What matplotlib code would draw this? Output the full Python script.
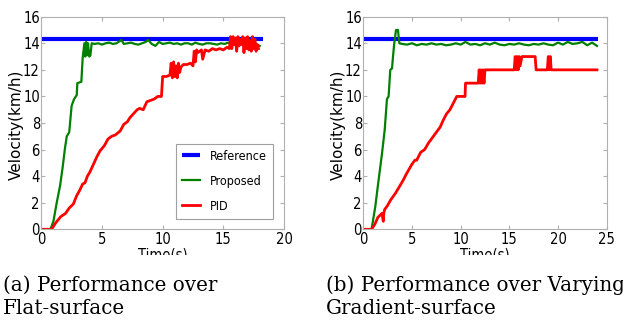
import numpy as np
import matplotlib
matplotlib.use("Agg")
import matplotlib.pyplot as plt
from matplotlib import font_manager as fm
from matplotlib.transforms import Bbox

# ---- data (a) flat surface ----
ref_a_t = [0, 18.25]
ref_a_v = [14.35, 14.35]

prop_a_t = [0, 0.75, 1.0, 1.25, 1.55, 1.75, 1.95, 2.1, 2.3, 2.5, 2.7, 2.92, 2.97, 3.3, 3.41,
            3.55, 3.62, 3.7, 3.78, 3.85, 3.95, 4.05, 4.15,
            4.4, 4.7, 5.0, 5.3, 5.6, 5.9, 6.2, 6.6, 6.8, 7.1, 7.4, 7.7, 8.0, 8.3, 8.6, 8.8,
            9.1, 9.4, 9.7, 10.0, 10.3, 10.6, 10.9, 11.2, 11.5, 11.8, 12.1, 12.4, 12.7, 13.0,
            13.3, 13.6, 13.9, 14.2, 14.5, 14.8, 15.1, 15.4, 15.7, 16.0, 16.3, 16.6, 16.9,
            17.2, 17.5, 17.8, 18.0]
prop_a_v = [0, 0, 0.6, 1.9, 3.3, 4.6, 6.1, 7.0, 7.3, 9.3, 9.8, 10.1, 11.0, 11.1, 12.9,
            14.0, 13.0, 14.1, 13.1, 14.0, 13.0, 13.1, 14.0,
            13.95, 14.0, 13.9, 14.0, 14.05, 13.95, 14.0, 14.25, 13.95, 14.0, 14.05, 13.95,
            13.9, 14.0, 14.1, 14.25, 13.95, 13.8, 14.1, 13.95, 14.0, 14.05, 13.95, 14.0,
            13.9, 14.0, 14.0, 13.9, 14.05, 13.95, 13.9, 14.0, 14.0, 13.95, 13.9, 14.0,
            13.95, 14.05, 13.9, 14.0, 14.1, 13.95, 14.05, 13.85, 14.1, 13.9, 13.8]

pid_a_t = [0, 0.85, 1.2, 1.6, 2.0, 2.3, 2.64, 2.9, 3.2, 3.4, 3.6, 3.8, 4.0, 4.3, 4.6, 4.84,
           5.2, 5.5, 5.8, 6.1, 6.5, 6.8, 7.1, 7.3, 7.6, 7.9, 8.1, 8.4, 8.7, 9.0, 9.3, 9.6,
           9.9, 10.0, 10.3, 10.6, 10.7, 10.8, 10.9, 11.0, 11.1, 11.2, 11.3, 11.4, 11.5,
           11.7, 12.0, 12.3, 12.5, 12.6, 12.7, 12.8, 12.9, 13.2, 13.3, 13.5, 13.8, 14.1,
           14.4, 14.7, 15.0, 15.3, 15.5, 15.6, 15.7, 15.8, 15.9, 16.0, 16.1, 16.2, 16.3,
           16.4, 16.5, 16.6, 16.7, 16.8, 16.9, 17.0, 17.1, 17.2, 17.3, 17.4, 17.5, 17.6,
           17.7, 17.8, 17.9]
pid_a_v = [0, 0, 0.5, 0.95, 1.2, 1.6, 1.9, 2.5, 3.0, 3.4, 3.5, 4.0, 4.3, 4.9, 5.5, 5.9,
           6.3, 6.8, 7.0, 7.1, 7.4, 7.9, 8.1, 8.4, 8.7, 9.0, 9.1, 9.0, 9.6, 9.7, 9.8, 10.0,
           10.0, 11.5, 11.5, 11.6, 12.5, 11.4, 12.6, 11.5, 12.3, 11.4, 12.5, 11.8, 12.2,
           12.4, 12.4, 12.5, 12.3, 13.4, 12.6, 13.5, 13.3, 13.5, 12.8, 13.5, 13.4, 13.6,
           13.5, 13.6, 13.5, 13.7, 13.6, 14.5, 13.6, 14.5, 13.9, 14.4, 13.4, 14.5, 13.8,
           14.3, 13.9, 14.5, 13.3, 14.4, 13.6, 14.5, 13.5, 14.2, 13.4, 14.5, 13.6, 14.3,
           13.4, 13.9, 13.6]

# ---- data (b) varying gradient ----
ref_b_t = [0, 24.1]
ref_b_v = [14.35, 14.35]

prop_b_t = [0, 0.85, 1.23, 1.5, 1.92, 2.2, 2.43, 2.6, 2.77, 2.95, 3.05, 3.18, 3.36, 3.56,
            3.7, 4.0, 4.5, 5.0, 5.5, 6.0, 6.5, 7.0, 7.5, 8.0, 8.5, 9.0, 9.5, 10.0, 10.5,
            11.0, 11.5, 12.0, 12.5, 13.0, 13.5, 14.0, 14.5, 15.0, 15.5, 16.0, 16.5, 17.0,
            17.5, 18.0, 18.5, 19.0, 19.5, 20.0, 20.5, 21.0, 21.5, 22.0, 22.5, 23.0, 23.5,
            24.0]
prop_b_v = [0, 0, 1.7, 3.3, 5.7, 7.5, 9.8, 10.0, 12.0, 12.1, 13.0, 14.0, 15.0, 15.0,
            14.0, 13.95, 13.9, 14.0, 13.85, 13.95, 13.9, 14.0, 13.9, 13.95, 13.85, 13.9,
            14.0, 13.9, 14.1, 13.9, 13.95, 13.85, 14.0, 13.9, 14.05, 13.9, 13.85, 13.95,
            13.9, 14.0, 13.9, 13.85, 13.95, 13.9, 14.0, 13.9, 13.85, 14.05, 13.9, 14.1,
            13.95, 14.0, 14.1, 13.85, 14.05, 13.8]

pid_b_t = [0, 0.85, 1.2, 1.5, 1.92, 2.05, 2.1, 2.2, 2.5, 2.8, 3.29, 3.7, 4.1, 4.45, 5.0,
           5.3, 5.48, 5.9, 6.3, 6.7, 7.2, 7.5, 7.9, 8.2, 8.56, 8.9, 9.25, 9.6, 10.0, 10.45,
           10.5, 11.8, 11.9, 12.0, 12.1, 12.2, 12.3, 12.4, 12.5, 15.5, 15.6, 15.7, 15.8,
           15.9, 16.0, 16.1, 16.3, 17.65, 17.75, 18.9, 19.0, 19.1, 19.2, 19.3, 24.0]
pid_b_v = [0, 0, 0.4, 0.9, 1.2, 0.6, 1.2, 1.5, 1.8, 2.2, 2.7, 3.2, 3.7, 4.2, 4.9,
           5.2, 5.2, 5.8, 6.0, 6.5, 7.0, 7.3, 7.7, 8.2, 8.7, 9.0, 9.5, 10.0, 10.0, 10.0,
           11.0, 11.0, 12.0, 11.0, 12.0, 11.0, 12.0, 11.0, 12.0, 12.0, 13.0, 12.0, 13.0,
           12.0, 13.0, 12.3, 13.0, 13.0, 12.0, 12.0, 13.0, 12.0, 13.0, 12.0, 12.0]

x_lims = [20, 25]
captions = [["(a) Performance over", "Flat-surface"],
            ["(b) Performance over Varying", "Gradient-surface"]]


# the screenshot is squeezed sideways, so look for a narrow sans font
def narrow_font():
    files = [f.fname for f in fm.fontManager.ttflist]
    for want in ["LiberationSansNarrow-Regular", "DejaVuSansCondensed.ttf",
                 "RobotoCondensed-Regular", "OpenSans_Condensed-Regular",
                 "OpenSansCondensed-Regular"]:
        for f in files:
            if want in f:
                return fm.FontProperties(fname=f)
    return fm.FontProperties(family="DejaVu Sans", stretch="condensed")


narrow = narrow_font()

W, H = 623, 323
fig = plt.figure(figsize=(W / 100, H / 100), dpi=100)
fig.patch.set_facecolor("white")

ax_a = fig.add_axes([41.3 / W, (H - 229.3) / H, 242.7 / W, 212.6 / H])
ax_b = fig.add_axes([363.3 / W, (H - 229.3) / H, 243.4 / W, 212.6 / H])

data = [(ax_a, ref_a_t, ref_a_v, prop_a_t, prop_a_v, pid_a_t, pid_a_v),
        (ax_b, ref_b_t, ref_b_v, prop_b_t, prop_b_v, pid_b_t, pid_b_v)]

for i, (ax, rt, rv, gt, gv, pt, pv) in enumerate(data):
    ax.plot(rt, rv, color="#0000ff", lw=3.0, label="Reference", solid_capstyle="butt")
    ax.plot(gt, gv, color="#008000", lw=1.6, label="Proposed")
    ax.plot(pt, pv, color="#ff0000", lw=2.0, label="PID")
    ax.set_xlim(0, x_lims[i])
    ax.set_ylim(0, 16)
    ax.set_yticks(range(0, 17, 2))
    for s in ax.spines.values():
        s.set_color("#b0b0b0")
        s.set_linewidth(0.8)
    ax.tick_params(direction="in", length=3, color="#b0b0b0",
                   top=True, right=True, pad=2)
    ax.tick_params(axis="y", pad=1)
    for lab in ax.get_xticklabels() + ax.get_yticklabels():
        lab.set_fontproperties(narrow)
        lab.set_fontsize(10.5)

    ax.set_ylabel("Velocity(km/h)", fontsize=11, family="DejaVu Sans")
    ax.yaxis.set_label_coords(-0.072, 0.49)
    xl = ax.set_xlabel("Time(s)", fontproperties=narrow, fontsize=10.5)
    ax.xaxis.set_label_coords(0.5, -0.086)
    # the screenshot cuts the x label in half
    xl.set_clip_box(Bbox.from_extents(0, 68, W, H))
    xl.set_clip_on(True)

    for j in range(2):
        fig.text((3 if i == 0 else 326) / W, (H - (285 + 23 * j)) / H, captions[i][j],
                 family="DejaVu Serif", fontsize=14.3, va="center", ha="left")

leg = ax_a.legend(loc="lower right", bbox_to_anchor=(0.9547, 0.0484), borderaxespad=0,
                  prop=narrow, fancybox=False, framealpha=1, edgecolor="#a0a0a0",
                  handlelength=1.3, handletextpad=0.7, labelspacing=0.85, borderpad=0.45)
for t in leg.get_texts():
    t.set_fontsize(9)
leg.get_frame().set_linewidth(0.8)

fig.savefig("out.png", dpi=100)
